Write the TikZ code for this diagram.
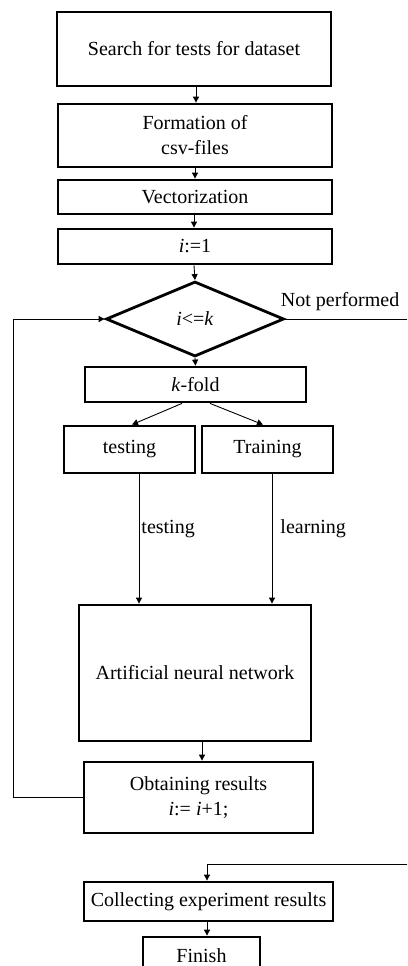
\documentclass[tikz,border=0pt]{standalone}
\usepackage{fontspec}
\setmainfont{Liberation Serif}
\usetikzlibrary{shapes.geometric,arrows.meta,calc}
\begin{document}
\begin{tikzpicture}[x=1pt,y=-1pt,
  box/.style={draw,line width=2.8pt,inner sep=0pt,align=center,font=\fontsize{20}{25}\selectfont},
  arr/.style={line width=0.9pt,-{Triangle[length=6pt,width=6pt]}},
  ln/.style={line width=0.9pt},
  lbl/.style={font=\fontsize{20}{24}\selectfont,inner sep=0pt}]
\useasboundingbox (0,0) rectangle (407,966);
\clip (0,0) rectangle (407,966);
\node[box,minimum width=274,minimum height=74] (b1) at (194,49) {Search for tests for dataset};
\node[box,minimum width=274,minimum height=63] (b2) at (195,135.5) {Formation of\\csv-files};
\node[box,minimum width=274,minimum height=34] (b3) at (195,197) {Vectorization};
\node[box,minimum width=274,minimum height=35] (b4) at (195,246.5) {\textit{i}:=1};
\node[box,diamond,minimum width=178,minimum height=75] (d) at (195,319) {\textit{i}<=\textit{k}};
\node[box,minimum width=221,minimum height=35] (kf) at (195.5,384.5) {\textit{k}-fold};
\node[box,minimum width=131,minimum height=47] (te) at (129.5,449.5) {testing};
\node[box,minimum width=131,minimum height=47] (tr) at (267.5,449.5) {Training};
\node[box,minimum width=232,minimum height=136] (ann) at (195,673) {Artificial neural network};
\node[box,minimum width=229,minimum height=71] (ob) at (198.5,797.5) {Obtaining results\\\textit{i}:= \textit{i}+1;};
\node[box,minimum width=249,minimum height=39] (co) at (208.5,901.5) {Collecting experiment results};
\node[box,minimum width=117,minimum height=38] (fi) at (201.5,956) {Finish};
\coordinate (lb) at (13,797);
\coordinate (lt) at (13,319);
\coordinate (re) at (407,319);
\coordinate (rc) at (407,864);
\coordinate (cc) at (207,864);
\draw[arr] (b1.south -| 196,0) -- (b2.north -| 196,0);
\draw[arr] (b2.south) -- (b3.north);
\draw[arr] (b3.south -| 194,0) -- (b4.north -| 194,0);
\draw[arr] (b4.south -| 194,0) -- (d.north);
\draw[arr] (d.south) -- (kf.north);
\draw[arr] ([xshift=-13.5]kf.south) -- ([xshift=2.5]te.north);
\draw[arr] ([xshift=14.5]kf.south) -- ([xshift=-4.5]tr.north);
\draw[arr] ([xshift=9.5]te.south) -- ([xshift=9.5]te.south |- ann.north)
  node[lbl,pos=0.42,right=2pt] {testing};
\draw[arr] ([xshift=4.5]tr.south) -- ([xshift=4.5]tr.south |- ann.north)
  node[lbl,pos=0.42,right=8pt] {learning};
\draw[arr] ([xshift=7]ann.south) -- ([xshift=7]ann.south |- ob.north);
\draw[arr] (ob.west |- lb) -- (lb) -- (lt) -- (d.west);
\draw[ln] (d.east) -- (re) node[lbl,pos=0.45,above=8pt] {Not performed};
\draw[arr] (rc) -- (cc) -- (cc |- co.north);
\draw[arr] (co.south -| cc) -- (fi.north -| cc);
\end{tikzpicture}
\end{document}
